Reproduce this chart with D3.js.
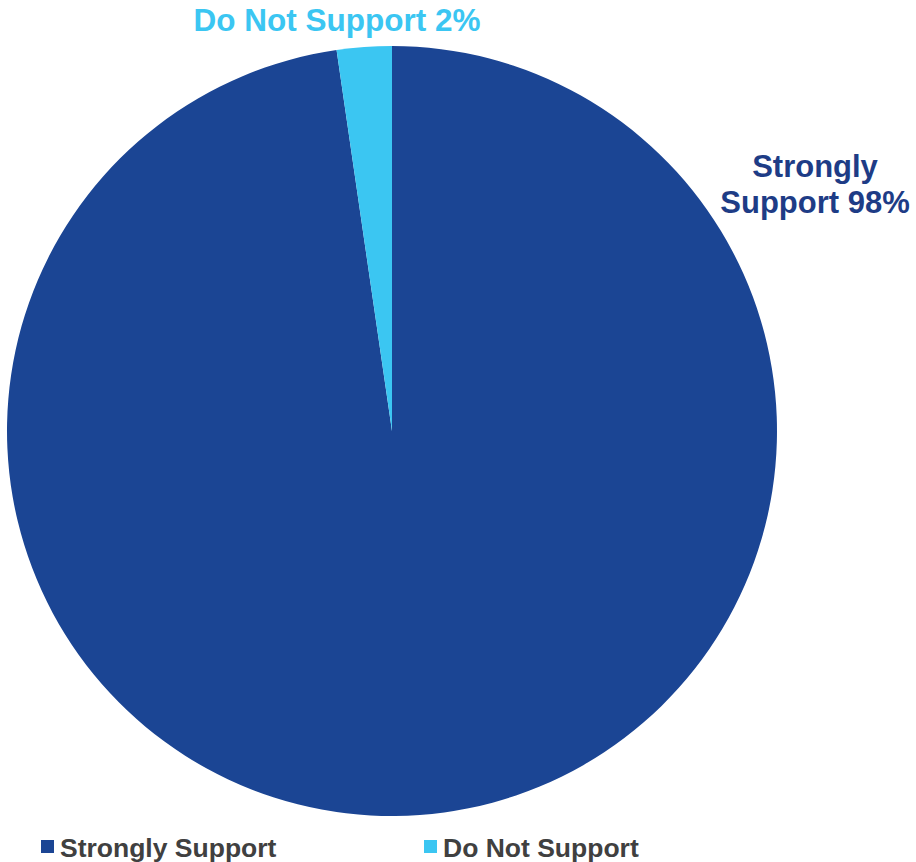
<!DOCTYPE html>
<html>
<head>
<meta charset="utf-8">
<script src="https://cdn.jsdelivr.net/npm/d3@7"></script>
<style>
  html, body { margin: 0; padding: 0; background: #ffffff; }
  svg { display: block; }
  text { font-family: "Liberation Sans", Arial, sans-serif; font-weight: bold; }
</style>
</head>
<body>
<svg id="chart" width="916" height="862"></svg>
<script>
const categories = ["Strongly Support", "Do Not Support"];
const values = [97.7, 2.3];
const labelTexts = [["Strongly", "Support 98%"], ["Do Not Support 2%"]];
const colors = ["#1B4594", "#3BC6F2"];
const labelColors = ["#1E3C86", "#3BC6F2"];

const svg = d3.select("#chart");
const cx = 392, cy = 431, r = 385;

const data = categories.map((c, i) => ({ name: c, value: values[i], idx: i }));
const pie = d3.pie().sort(null).value(d => d.value);
const arc = d3.arc().innerRadius(0).outerRadius(r);
const color = d3.scaleOrdinal().domain(categories).range(colors);

const g = svg.append("g").attr("transform", `translate(${cx},${cy})`);
const arcs = pie(data);
g.selectAll("path").data(arcs).enter().append("path")
  .attr("d", arc)
  .attr("fill", d => color(d.data.name));

// Data labels
const labelPos = [
  { x: 815, y: 177, size: 31, lh: 36 },
  { x: 337, y: 31, size: 31.5, lh: 0 }
];
arcs.forEach((a, i) => {
  const p = labelPos[i];
  const t = svg.append("text")
    .attr("x", p.x).attr("y", p.y)
    .attr("text-anchor", "middle")
    .attr("font-size", p.size)
    .attr("fill", labelColors[i]);
  labelTexts[i].forEach((line, k) => {
    t.append("tspan").attr("x", p.x).attr("dy", k === 0 ? 0 : p.lh).text(line);
  });
});

// Legend
const legendX = [41, 424];
const legend = svg.append("g");
categories.forEach((c, i) => {
  legend.append("rect")
    .attr("x", legendX[i]).attr("y", 840)
    .attr("width", 13).attr("height", 13)
    .attr("fill", color(c));
  legend.append("text")
    .attr("x", legendX[i] + 19).attr("y", 857)
    .attr("font-size", 26.5)
    .attr("fill", "#404040")
    .text(c);
});
</script>
</body>
</html>
